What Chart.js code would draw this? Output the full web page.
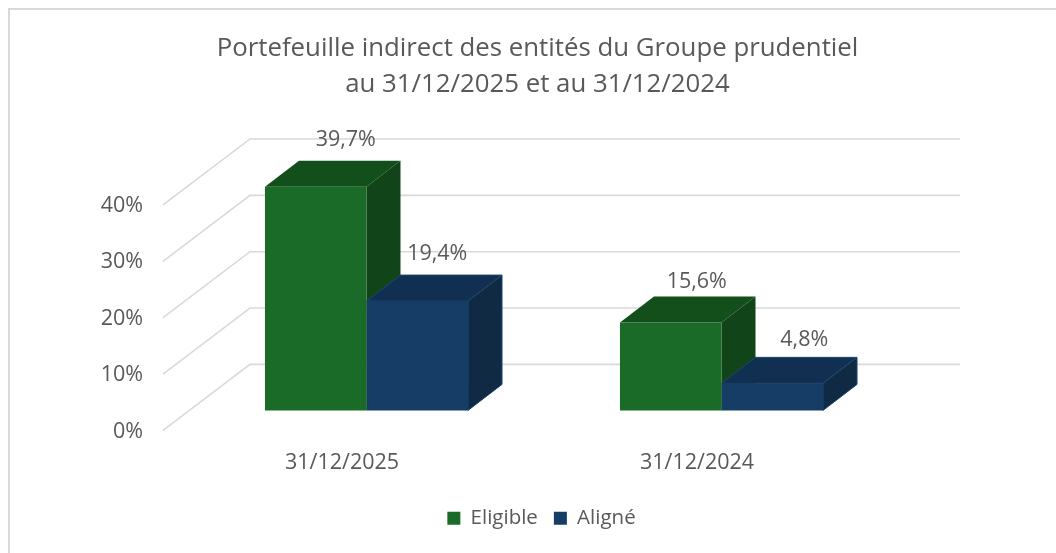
<!DOCTYPE html>
<html lang="fr">
<head>
    <meta charset="UTF-8">
    <title>Portefeuille indirect</title>
    <script src="https://cdn.jsdelivr.net/npm/chart.js"></script>
    <style>
        html, body { margin: 0; background: #fff; overflow: hidden; }
        #frame { position: absolute; left: 8px; top: 8px; width: 1048px; height: 545px; border-left: 2px solid #d9d9d9; border-top: 2px solid #d9d9d9; box-sizing: border-box; }
        canvas { position: absolute; left: 0; top: 0; }
    </style>
</head>
<body>
    <div id="frame"></div>
    <canvas id="chart" width="1056" height="553"></canvas>
    <script>
        // Données
        const categories = ['31/12/2025', '31/12/2024'];
        const eligible = [39.7, 15.6];
        const aligne = [19.4, 4.8];
        const seriesNames = ['Eligible', 'Aligné'];
        const titleLines = ['Portefeuille indirect des entités du Groupe prudentiel', 'au 31/12/2025 et au 31/12/2024'];

        const textColor = '#595959';
        const fontFamily = '"Open Sans", sans-serif';

        // Profondeur du "plancher" et des barres (effet 3D)
        const wall = { dx: 87, dy: -66 };
        const barShift = { dx: 26, dy: -20 };
        const barDepth = { dx: 34, dy: -26 };
        const faces = [
            { top: '#124f1b', side: '#114418', edge: null },
            { top: '#112f50', side: '#0f2a42', edge: '#1c4872' }
        ];
        // Décalage de chaque étiquette par rapport au haut de la barre [série][catégorie]
        const labelNudge = [
            [{ x: 30, y: -47 }, { x: 26, y: -41 }],
            [{ x: 20, y: -47 }, { x: 32, y: -43 }]
        ];

        function poly(ctx, color, edge, pts) {
            ctx.fillStyle = color;
            ctx.beginPath();
            pts.forEach((p, i) => i ? ctx.lineTo(p[0], p[1]) : ctx.moveTo(p[0], p[1]));
            ctx.closePath();
            ctx.fill();
            if (edge) {
                ctx.strokeStyle = edge;
                ctx.lineWidth = 1;
                ctx.stroke();
            }
        }

        const fake3d = {
            id: 'fake3d',
            afterLayout(chart) {
                // La légende est un peu à droite du titre
                chart.legend.left += 4;
                chart.legend.right += 4;
            },
            beforeDatasetsDraw(chart) {
                const { ctx, chartArea, scales } = chart;
                // Grille : diagonale sur le mur gauche puis ligne sur le mur du fond
                ctx.save();
                ctx.strokeStyle = '#d9d9d9';
                ctx.lineWidth = 1.6;
                scales.y.ticks.forEach(t => {
                    const py = scales.y.getPixelForValue(t.value);
                    ctx.beginPath();
                    ctx.moveTo(chartArea.left, py);
                    ctx.lineTo(chartArea.left + wall.dx, py + wall.dy);
                    ctx.lineTo(chartArea.right + wall.dx, py + wall.dy);
                    ctx.stroke();
                });
                ctx.restore();
                ctx.save();
                ctx.translate(barShift.dx, barShift.dy);
                // Faces haut et côté : toutes avant les faces avant, le vert d'abord
                chart.data.datasets.forEach((ds, s) => {
                    const f = faces[s];
                    chart.getDatasetMeta(s).data.forEach(bar => {
                        const l = bar.x - bar.width / 2, r = bar.x + bar.width / 2;
                        poly(ctx, f.top, f.edge, [[l, bar.y], [l + barDepth.dx, bar.y + barDepth.dy], [r + barDepth.dx, bar.y + barDepth.dy], [r, bar.y]]);
                        poly(ctx, f.side, f.edge, [[r, bar.y], [r + barDepth.dx, bar.y + barDepth.dy], [r + barDepth.dx, bar.base + barDepth.dy], [r, bar.base]]);
                    });
                });
            },
            afterDatasetsDraw(chart) {
                const { ctx } = chart;
                ctx.restore();
                ctx.save();
                ctx.fillStyle = textColor;
                ctx.font = '21.5px ' + fontFamily;
                ctx.textAlign = 'center';
                ctx.textBaseline = 'middle';
                chart.data.datasets.forEach((ds, s) => {
                    chart.getDatasetMeta(s).data.forEach((bar, i) => {
                        const text = ds.data[i].toFixed(1).replace('.', ',') + '%';
                        ctx.fillText(text, bar.x + barShift.dx + labelNudge[s][i].x, bar.y + barShift.dy + labelNudge[s][i].y);
                    });
                });
                ctx.restore();
            }
        };

        new Chart(document.getElementById('chart'), {
            type: 'bar',
            data: {
                labels: categories,
                datasets: [
                    { label: seriesNames[0], data: eligible, backgroundColor: '#1a6a28', clip: false },
                    { label: seriesNames[1], data: aligne, backgroundColor: '#163d66', clip: false }
                ]
            },
            options: {
                responsive: false,
                animation: false,
                layout: { padding: { left: 19, right: 0, top: 0, bottom: 14.5 } },
                datasets: { bar: { categoryPercentage: 0.572, barPercentage: 1 } },
                scales: {
                    x: {
                        grid: { display: false },
                        border: { display: false },
                        ticks: { color: textColor, font: { family: fontFamily, size: 21.5 }, padding: 12, labelOffset: 1.5, maxRotation: 0 },
                        afterFit(scale) { scale.height = 61.6; }
                    },
                    y: {
                        min: 0,
                        max: 40,
                        grid: { display: false },
                        border: { display: false },
                        ticks: {
                            stepSize: 10,
                            color: textColor,
                            font: { family: fontFamily, size: 21.5 },
                            padding: 12,
                            labelOffset: 1,
                            callback: v => v + '%'
                        },
                        afterFit(scale) { scale.width = 144; }
                    },
                    // Axe vide : réserve la marge à droite sans décentrer le titre
                    yRight: {
                        axis: 'y',
                        position: 'right',
                        grid: { display: false },
                        border: { display: false },
                        ticks: { display: false },
                        afterFit(scale) { scale.width = 183; }
                    }
                },
                plugins: {
                    title: {
                        display: true,
                        text: titleLines,
                        color: textColor,
                        font: { family: fontFamily, size: 25.8, weight: 'normal', lineHeight: 1.395 },
                        padding: { top: 31, bottom: 102 }
                    },
                    legend: {
                        position: 'bottom',
                        labels: {
                            color: textColor,
                            font: { family: fontFamily, size: 20.5 },
                            boxWidth: 13,
                            boxHeight: 13,
                            padding: 16
                        }
                    },
                    tooltip: { enabled: false }
                }
            },
            plugins: [fake3d]
        });
    </script>
</body>
</html>
